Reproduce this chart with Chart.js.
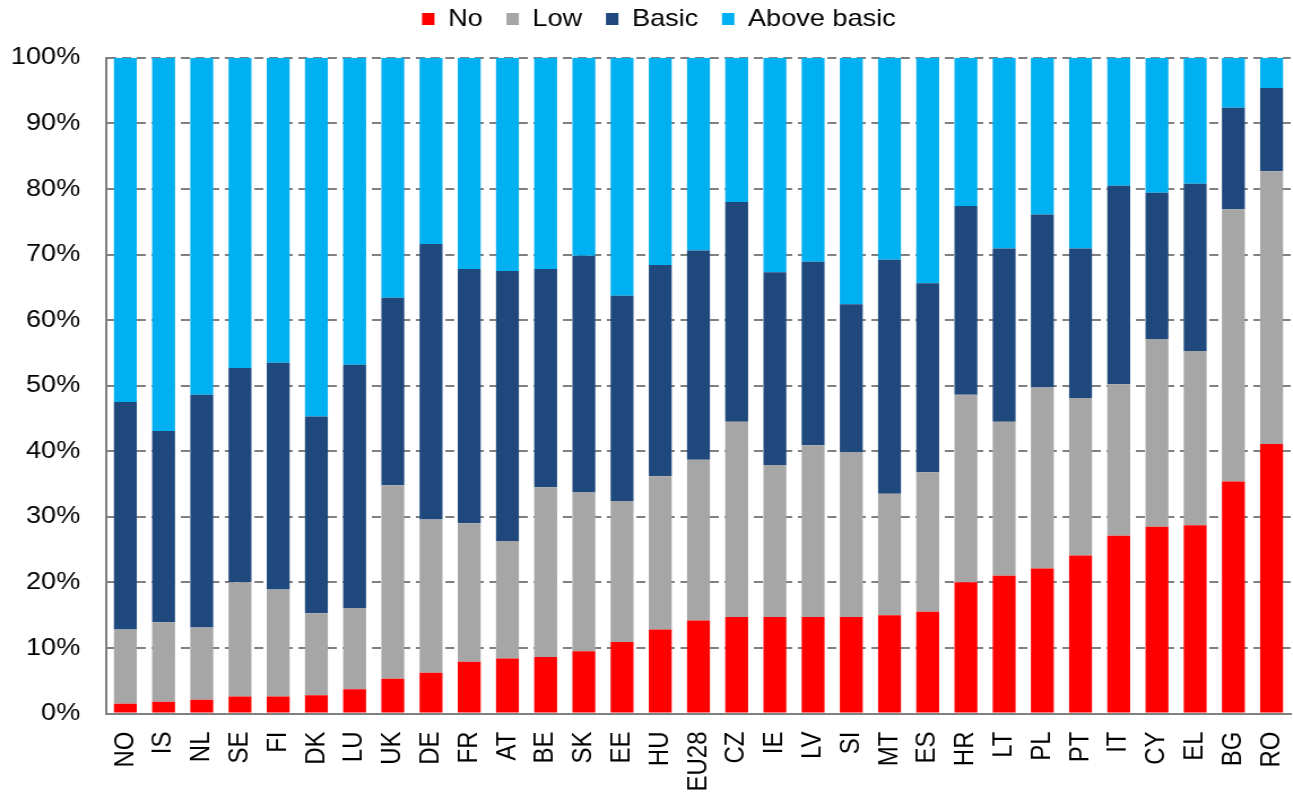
<!DOCTYPE html>
<html>
<head>
<meta charset="utf-8">
<script src="https://cdn.jsdelivr.net/npm/chart.js@4.4.1/dist/chart.umd.min.js"></script>
<style>
html, body { margin: 0; padding: 0; background: #ffffff; overflow: hidden; }
/* the reference is a slightly widened picture, so the chart is drawn narrower and stretched */
#wrap { width: 1144px; height: 792px; transform: scaleX(1.1302); transform-origin: 0 0; }
</style>
</head>
<body>
<div id="wrap"><canvas id="skillsChart"></canvas></div>
<script>
var countries = ['NO', 'IS', 'NL', 'SE', 'FI', 'DK', 'LU', 'UK', 'DE', 'FR', 'AT', 'BE', 'SK', 'EE', 'HU', 'EU28',
                 'CZ', 'IE', 'LV', 'SI', 'MT', 'ES', 'HR', 'LT', 'PL', 'PT', 'IT', 'CY', 'EL', 'BG', 'RO'];

var noSkills    = [1.5, 1.8, 2.1, 2.6, 2.6, 2.8, 3.7, 5.3, 6.2, 7.9, 8.4, 8.6, 9.5, 10.9, 12.8, 14.2,
                   14.7, 14.7, 14.7, 14.7, 15.0, 15.5, 20.0, 21.0, 22.1, 24.1, 27.1, 28.5, 28.7, 35.4, 41.1];
var lowSkills   = [11.3, 12.1, 11.0, 17.4, 16.3, 12.5, 12.4, 29.5, 23.4, 21.1, 17.9, 25.9, 24.2, 21.5, 23.4, 24.5,
                   29.8, 23.2, 26.2, 25.1, 18.5, 21.3, 28.6, 23.5, 27.6, 24.0, 23.1, 28.6, 26.6, 41.5, 41.6];
var basicSkills = [34.7, 29.2, 35.5, 32.7, 34.6, 30.0, 37.1, 28.6, 42.0, 38.8, 41.2, 33.3, 36.1, 31.3, 32.2, 31.9,
                   33.5, 29.4, 28.0, 22.6, 35.7, 28.8, 28.8, 26.4, 26.4, 22.8, 30.3, 22.3, 25.5, 15.5, 12.7];
var aboveBasic  = [52.5, 56.9, 51.4, 47.3, 46.5, 54.7, 46.8, 36.6, 28.4, 32.2, 32.5, 32.2, 30.2, 36.3, 31.6, 29.4,
                   22.0, 32.7, 31.1, 37.6, 30.8, 34.4, 22.6, 29.1, 23.9, 29.1, 19.5, 20.6, 19.2, 7.6, 4.6];

var yTicks = [0, 10, 20, 30, 40, 50, 60, 70, 80, 90, 100];

Chart.defaults.font.family = "'Liberation Sans', Arial, sans-serif";
Chart.defaults.color = '#000000';

function series(label, data, colour) {
    return {
        label: label,
        data: data,
        backgroundColor: colour,
        borderWidth: 0,
        barPercentage: 0.6,
        categoryPercentage: 1.0
    };
}

// nudge the legend a little to the right, it sits off-centre in the original
var legendShift = {
    id: 'legendShift',
    afterLayout: function(chart) {
        chart.legend.left += 9;
        chart.legend.right += 9;
    }
};

var ctx = document.getElementById('skillsChart').getContext('2d');
var skillsChart = new Chart(ctx, {
    type: 'bar',
    data: {
        labels: countries,
        datasets: [
            series('No', noSkills, '#ff0000'),
            series('Low', lowSkills, '#a6a6a6'),
            series('Basic', basicSkills, '#1f497d'),
            series('Above basic', aboveBasic, '#00b0f0')
        ]
    },
    plugins: [legendShift],
    options: {
        responsive: true,
        maintainAspectRatio: false,
        animation: false,
        layout: {
            padding: { left: 6, right: 2, top: -14, bottom: 0 }
        },
        plugins: {
            legend: {
                position: 'top',
                weight: 3000,
                labels: {
                    boxWidth: 11,
                    boxHeight: 12,
                    padding: 21,
                    font: { size: 24 }
                }
            },
            // empty line used only as a gap between legend and plot
            subtitle: {
                display: true,
                text: ' ',
                padding: 0,
                font: { size: 14 }
            },
            tooltip: { enabled: false }
        },
        scales: {
            x: {
                stacked: true,
                grid: { display: false, drawTicks: false },
                border: { display: true, color: '#808080', width: 2 },
                ticks: {
                    autoSkip: false,
                    minRotation: 90,
                    maxRotation: 90,
                    padding: 18,
                    font: { size: 24 }
                },
                afterFit: function(scale) {
                    scale.height = 78.5;
                    scale.paddingLeft = 0;
                    scale.paddingRight = 0;
                }
            },
            y: {
                stacked: true,
                min: 0,
                max: 100,
                afterBuildTicks: function(scale) {
                    scale.ticks = yTicks.map(function(v) { return { value: v }; });
                },
                grid: { color: '#808080', lineWidth: 2, drawTicks: false },
                border: { display: true, color: '#808080', width: 2, dash: [8, 5] },
                ticks: {
                    padding: 23,
                    font: { size: 24 },
                    callback: function(value) { return value + '%'; }
                },
                afterFit: function(scale) {
                    scale.width = 88;
                }
            }
        }
    }
});
</script>
</body>
</html>
